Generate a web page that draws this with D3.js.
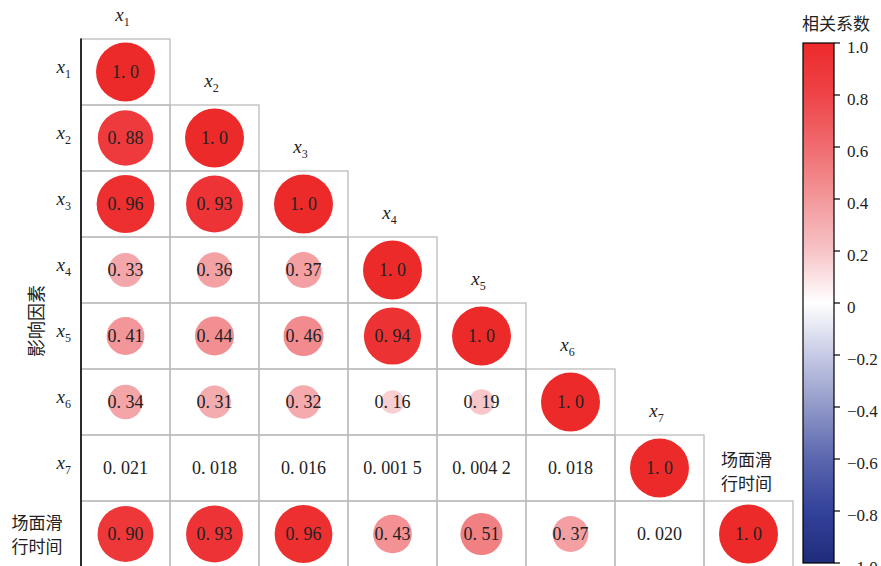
<!DOCTYPE html>
<html>
<head>
<meta charset="utf-8">
<script src="https://cdn.jsdelivr.net/npm/d3@7"></script>
<style>
  body { margin: 0; background: #fff; }
  svg { display: block; }
</style>
</head>
<body>
<div id="chart"></div>
<script>
var w = 881
var h = 566

// factor names (x1..x7 + taxi time)
var names = ['x1', 'x2', 'x3', 'x4', 'x5', 'x6', 'x7', '场面滑行时间']
var subs = ['1', '2', '3', '4', '5', '6', '7', '']

// lower triangle of the correlation matrix, row by row
var row1 = [1.0]
var row2 = [0.88, 1.0]
var row3 = [0.96, 0.93, 1.0]
var row4 = [0.33, 0.36, 0.37, 1.0]
var row5 = [0.41, 0.44, 0.46, 0.94, 1.0]
var row6 = [0.34, 0.31, 0.32, 0.16, 0.19, 1.0]
var row7 = [0.021, 0.018, 0.016, 0.0015, 0.0042, 0.018, 1.0]
var row8 = [0.90, 0.93, 0.96, 0.43, 0.51, 0.37, 0.020, 1.0]
var rows = [row1, row2, row3, row4, row5, row6, row7, row8]

var colorTicks = [1.0, 0.8, 0.6, 0.4, 0.2, 0, -0.2, -0.4, -0.6, -0.8, -1.0]

var serif = '"Liberation Serif", "Times New Roman", serif'
var cjk = '"Noto Sans CJK SC", sans-serif'

var margins = { left: 81, top: 39, right: 88, bottom: -1 }

var scale_x = d3.scaleBand().domain(names).range([margins.left, w - margins.right])
var scale_y = d3.scaleBand().domain(names).range([margins.top, h - margins.bottom])
var scale_r = d3.scaleSqrt().domain([0, 1]).range([0, 29.5])

var color = d3.scaleLinear()
  .domain([-1, -0.8, -0.6, -0.4, -0.2, 0, 0.2, 0.4, 0.6, 0.8, 1])
  .range(['#1f2c7c', '#33429a', '#5a66ae', '#9098c8', '#c6cae5', '#ffffff',
          '#f7c4c7', '#f3989b', '#f06c6f', '#ee4448', '#ed2a2a'])

// "0.0015" -> "0. 001 5"
function fmt (v) {
  var s = d3.format('.2r')(v)
  var parts = s.split('.')
  var dec = parts[1].replace(/(\d{3})(?=\d)/g, '$1 ')
  return parts[0] + '. ' + dec
}

var svg = d3.select('#chart').append('svg')
  .attr('width', w)
  .attr('height', h)
  .attr('viewBox', [0, 0, w, h].join(' '))

var cw = scale_x.bandwidth()
var ch = scale_y.bandwidth()

// cells
var cells = []
rows.forEach(function (r, i) {
  r.forEach(function (v, j) {
    cells.push({ row: names[i], col: names[j], v: v })
  })
})

svg.append('g').selectAll('rect').data(cells).join('rect')
  .attr('x', function (d) { return scale_x(d.col) })
  .attr('y', function (d) { return scale_y(d.row) })
  .attr('width', cw)
  .attr('height', ch)
  .attr('fill', 'none')
  .attr('stroke', '#bcbcbc')
  .attr('stroke-width', 1.3)

svg.append('g').selectAll('circle').data(cells).join('circle')
  .attr('cx', function (d) { return scale_x(d.col) + cw / 2 })
  .attr('cy', function (d) { return scale_y(d.row) + ch / 2 })
  .attr('r', function (d) { return scale_r(Math.abs(d.v)) })
  .attr('fill', function (d) { return color(d.v) })

svg.append('g').selectAll('text').data(cells).join('text')
  .attr('x', function (d) { return scale_x(d.col) + cw / 2 })
  .attr('y', function (d) { return scale_y(d.row) + ch / 2 + 6 })
  .attr('text-anchor', 'middle')
  .attr('fill', '#222')
  .style('font-family', serif)
  .style('font-size', '18px')
  .text(function (d) { return fmt(d.v) })

// left axis line
svg.append('line')
  .attr('x1', margins.left).attr('x2', margins.left)
  .attr('y1', margins.top - 0.5).attr('y2', h)
  .attr('stroke', '#000')
  .attr('stroke-width', 1.6)

// x_i style label helper
function xlabel (g, name, i, anchor) {
  var t = g.append('text')
    .attr('text-anchor', anchor)
    .style('font-family', serif)
    .attr('fill', '#222')
  t.append('tspan').text('x').style('font-style', 'italic').style('font-size', '19px')
  t.append('tspan').text(subs[i]).attr('dy', 5).style('font-size', '12px')
  return t
}

// two-line CJK label, lines as separate texts
function cjkLabel (x, y0, gap) {
  ['场面滑', '行时间'].forEach(function (line, k) {
    svg.append('text').text(line)
      .attr('x', x)
      .attr('y', y0 + k * gap)
      .attr('text-anchor', 'middle')
      .style('font-family', cjk)
      .style('font-size', '17px')
      .attr('fill', '#222')
  })
}

// column labels (above each diagonal cell)
names.forEach(function (n, i) {
  var cx = scale_x(n) + cw / 2
  var top = scale_y(n)
  if (subs[i]) {
    xlabel(svg, n, i, 'middle').attr('x', cx - 3).attr('y', top - 18)
  } else {
    cjkLabel(cx - 2, top - 35, 24)
  }
})

// row labels
names.forEach(function (n, i) {
  var cy = scale_y(n) + ch / 2
  if (subs[i]) {
    xlabel(svg, n, i, 'end').attr('x', 71).attr('y', cy + 1)
  } else {
    cjkLabel(37, cy - 5, 24)
  }
})

svg.append('text').text('影响因素')
  .attr('transform', 'translate(43,321) rotate(-90)')
  .attr('text-anchor', 'middle')
  .style('font-family', cjk)
  .style('font-size', '18px')
  .attr('fill', '#222')

// colour bar
var cb = { x: 803, w: 31 }
var scale_cb = d3.scaleLinear().domain([1, -1]).range([43, 563])

var grad = svg.append('defs').append('linearGradient')
  .attr('id', 'cbgrad')
  .attr('x1', 0).attr('y1', 0).attr('x2', 0).attr('y2', 1)
grad.selectAll('stop').data(color.domain().slice().reverse()).join('stop')
  .attr('offset', function (d) { return (1 - d) / 2 })
  .attr('stop-color', function (d) { return color(d) })

svg.append('rect')
  .attr('x', cb.x)
  .attr('y', scale_cb(1))
  .attr('width', cb.w)
  .attr('height', scale_cb(-1) - scale_cb(1))
  .attr('fill', 'url(#cbgrad)')
  .attr('stroke', '#000')
  .attr('stroke-width', 1.2)

colorTicks.forEach(function (t) {
  var y = scale_cb(t)
  svg.append('line')
    .attr('x1', cb.x + cb.w).attr('x2', cb.x + cb.w + 6)
    .attr('y1', y).attr('y2', y)
    .attr('stroke', '#000')
    .attr('stroke-width', 1.2)
  svg.append('text')
    .text(t === 0 ? '0' : d3.format('.1f')(t).replace('-', '\u2212'))
    .attr('x', cb.x + cb.w + 13)
    .attr('y', y + 10)
    .style('font-family', serif)
    .style('font-size', '17px')
    .attr('fill', '#222')
})

svg.append('text').text('相关系数')
  .attr('x', 836)
  .attr('y', 30)
  .attr('text-anchor', 'middle')
  .style('font-family', cjk)
  .style('font-size', '17px')
  .attr('fill', '#222')
</script>
</body>
</html>
